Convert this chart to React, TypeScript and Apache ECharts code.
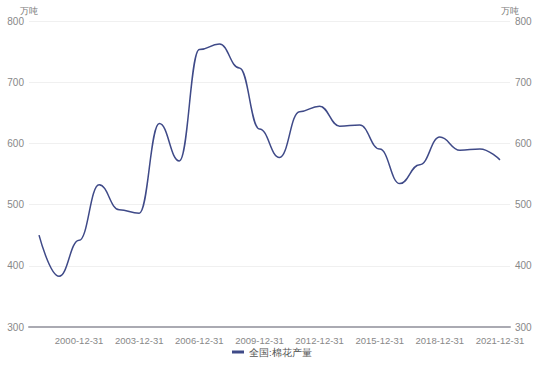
import React, { useEffect, useRef } from "react";
import * as echarts from "echarts";

const years: string[] = [
  "1998-12-31", "1999-12-31", "2000-12-31", "2001-12-31", "2002-12-31", "2003-12-31",
  "2004-12-31", "2005-12-31", "2006-12-31", "2007-12-31", "2008-12-31", "2009-12-31",
  "2010-12-31", "2011-12-31", "2012-12-31", "2013-12-31", "2014-12-31", "2015-12-31",
  "2016-12-31", "2017-12-31", "2018-12-31", "2019-12-31", "2020-12-31", "2021-12-31",
];
const output: number[] = [
  450.1, 382.9, 441.7, 532.4, 491.6, 486.0,
  632.4, 571.4, 753.3, 762.4, 723.2, 623.6,
  577.0, 651.9, 660.8, 628.2, 629.9, 590.7,
  534.3, 565.3, 610.3, 588.9, 591.0, 573.1,
];
const seriesName = "全国:棉花产量";
const unit = "万吨";

export default function App() {
  const ref = useRef<HTMLDivElement>(null);
  useEffect(() => {
    if (!ref.current) return;
    const chart = echarts.init(ref.current, undefined, { renderer: "svg" });
    const yAxisCommon = {
      type: "value" as const,
      min: 300,
      max: 800,
      interval: 100,
      name: unit,
      nameGap: 6,
      nameTextStyle: { color: "#777", fontSize: 9 },
      axisLine: { show: false },
      axisTick: { show: false },
      axisLabel: { color: "#888", fontSize: 10, margin: 5 },
    };
    chart.setOption({
      animation: false,
      grid: { left: 29, right: 40, top: 21, bottom: 39 },
      legend: {
        bottom: 4,
        left: 227,
        icon: "rect",
        itemWidth: 12,
        itemHeight: 3,
        itemGap: 10,
        textStyle: { color: "#555", fontSize: 9.5 },
        data: [seriesName],
      },
      xAxis: {
        type: "category",
        data: years,
        boundaryGap: true,
        axisLine: { lineStyle: { color: "#aaaab2", width: 2 } },
        axisTick: { show: false },
        axisLabel: {
          color: "#888",
          fontSize: 9.5,
          margin: 8,
          interval: (idx: number) => idx >= 2 && (idx - 2) % 3 === 0,
        },
      },
      yAxis: [
        { ...yAxisCommon, position: "left", splitLine: { lineStyle: { color: "#f0f0f0" } } },
        { ...yAxisCommon, position: "right", splitLine: { show: false } },
      ],
      series: [
        {
          name: seriesName,
          type: "line",
          data: output,
          smooth: 0.45,
          smoothMonotone: "x",
          showSymbol: false,
          symbol: "none",
          lineStyle: { color: "#3f4a88", width: 1.5 },
          itemStyle: { color: "#3f4a88" },
        },
      ],
    });
    return () => chart.dispose();
  }, []);
  return <div ref={ref} style={{ width: 550, height: 366, position: "absolute", left: 0, top: 0 }} />;
}
